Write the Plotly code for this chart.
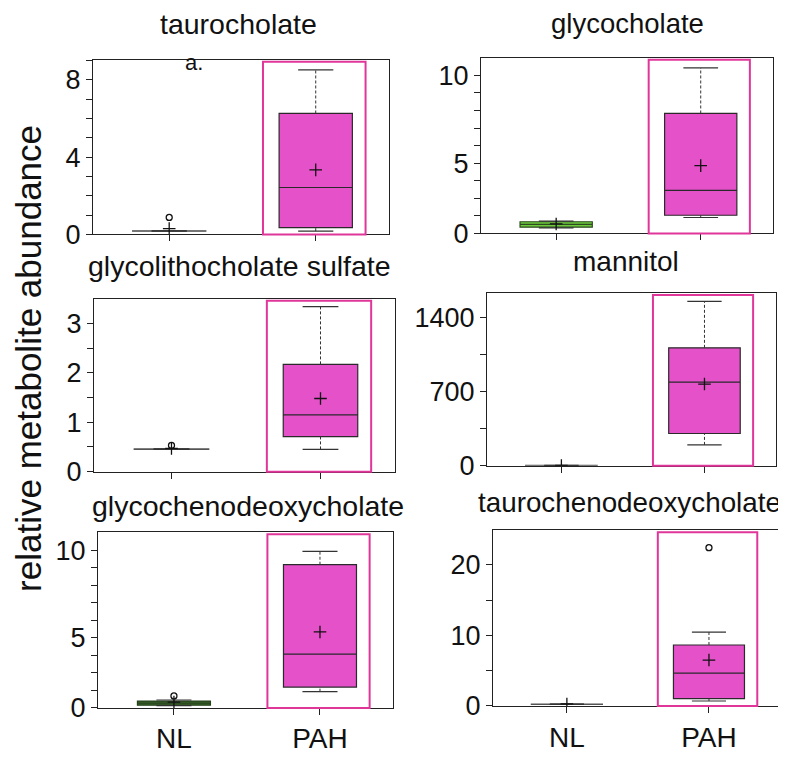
import plotly.graph_objects as go

# ---------------- data ----------------
metabolites = ["taurocholate", "glycocholate", "glycolithocholate sulfate",
               "mannitol", "glycochenodeoxycholate", "taurochenodeoxycholate"]
groups = ["NL", "PAH"]

# NL group summary statistics (one value per metabolite)
nl_lower = [0.17, 0.35, 0.45, 1, 0.15, 0.22]
nl_q1 = [0.17, 0.40, 0.45, 1, 0.17, 0.23]
nl_median = [0.18, 0.58, 0.46, 2, 0.30, 0.24]
nl_q3 = [0.19, 0.74, 0.46, 3, 0.43, 0.26]
nl_upper = [0.19, 0.78, 0.46, 3, 0.50, 0.27]
nl_mean = [0.30, 0.60, 0.47, 3, 0.37, 0.28]
nl_outliers = [[0.88], [], [0.53], [], [0.76], []]

# PAH group summary statistics
pah_lower = [0.17, 1.01, 0.45, 197, 1.03, 0.70]
pah_q1 = [0.35, 1.15, 0.71, 305, 1.32, 1.03]
pah_median = [2.43, 2.72, 1.15, 791, 3.41, 4.65]
pah_q3 = [6.26, 7.59, 2.17, 1114, 9.09, 8.65]
pah_upper = [8.52, 10.47, 3.34, 1554, 9.94, 10.47]
pah_mean = [3.34, 4.29, 1.48, 772, 4.82, 6.51]
pah_outliers = [[], [], [], [], [], [22.46]]

# y-axis extents and tick labels
y_top = [9.03, 11.1, 3.49, 1630, 11.14, 24.9]
y_tick_values = [
    [0, 1, 2, 3, 4, 5, 6, 7, 8, 9],
    [k * 10 / 9 for k in range(10)],
    [0, 0.5, 1, 1.5, 2, 2.5, 3, 3.5],
    [0, 350, 700, 1050, 1400],
    [k * 10 / 9 for k in range(10)],
    [0, 5, 10, 15, 20],
]
y_tick_labels = [
    ["0", "", "", "", "4", "", "", "", "8", ""],
    ["0", "", "", "", "5", "", "", "", "", "10"],
    ["0", "", "1", "", "2", "", "3", ""],
    ["0", "", "700", "", "1400"],
    ["0", "", "", "", "5", "", "", "", "", "10"],
    ["0", "", "10", "", "20"],
]
panel_note = "a."
y_title = "relative metabolite abundance"

# ---------------- styling ----------------
W, H = 786, 759
FONT = "Liberation Sans, Arial, Helvetica, sans-serif"
PAH_FILL = "#E451C9"
RECT_COLOR = "#E0369A"
NL_FILL = ["#555555", "#6DCB3C", "#555555", "#555555", "#3E6A2D", "#555555"]
NL_LINE = ["#555555", "#2F4A22", "#555555", "#555555", "#26401C", "#555555"]
EDGE = "#2a2a2a"

# plot areas in pixels: (left, right, top, bottom)
px_boxes = [
    (85, 381, 53, 231),
    (473, 765, 51, 230),
    (86, 387, 297, 473),
    (479, 768, 291, 467),
    (90, 385, 535, 714),
    (485, 772, 533, 712),
]
title_x_px = [230, 619, 232, 618, 240, 621]
title_y_px = [16, 16, 263, 259, 508, 504]
title_size = [28.5, 27.5, 28.5, 28, 28.5, 27.8]

fig = go.Figure()
BOX_W = 0.5
CAP = 0.12

for i in range(6):
    xa = "x" if i == 0 else f"x{i+1}"
    ya = "y" if i == 0 else f"y{i+1}"
    stats = [
        (0, nl_lower[i], nl_q1[i], nl_median[i], nl_q3[i], nl_upper[i], nl_mean[i],
         nl_outliers[i], NL_FILL[i], NL_LINE[i]),
        (1, pah_lower[i], pah_q1[i], pah_median[i], pah_q3[i], pah_upper[i], pah_mean[i],
         pah_outliers[i], PAH_FILL, EDGE),
    ]
    for pos, lo, q1, med, q3, up, mn, outs, fill, edge in stats:
        # whiskers (dotted stems)
        fig.add_trace(go.Scatter(
            x=[pos, pos, None, pos, pos], y=[q3, up, None, lo, q1],
            mode="lines", line=dict(color="#333333", width=1, dash="3px,2px"),
            xaxis=xa, yaxis=ya, showlegend=False, hoverinfo="skip"))
        # whisker caps
        fig.add_trace(go.Scatter(
            x=[pos - CAP, pos + CAP, None, pos - CAP, pos + CAP],
            y=[up, up, None, lo, lo],
            mode="lines", line=dict(color="#333333", width=1.2),
            xaxis=xa, yaxis=ya, showlegend=False, hoverinfo="skip"))
        # box
        fig.add_trace(go.Box(
            x=[pos], q1=[q1], median=[med], q3=[q3],
            lowerfence=[q1], upperfence=[q3],
            width=BOX_W, whiskerwidth=0, fillcolor=fill,
            line=dict(color=edge, width=1.2),
            xaxis=xa, yaxis=ya, showlegend=False, boxpoints=False))
        # mean
        fig.add_trace(go.Scatter(
            x=[pos], y=[mn], mode="markers",
            marker=dict(symbol="cross-thin", size=9, color="#111111",
                        line=dict(color="#111111", width=1.3)),
            xaxis=xa, yaxis=ya, showlegend=False))
        # outliers
        if outs:
            fig.add_trace(go.Scatter(
                x=[pos] * len(outs), y=outs, mode="markers",
                marker=dict(symbol="circle-open", size=6, color="#111111",
                            line=dict(color="#111111", width=1.3)),
                xaxis=xa, yaxis=ya, showlegend=False))

layout = dict(
    width=W, height=H, margin=dict(l=0, r=0, t=0, b=0),
    paper_bgcolor="white", plot_bgcolor="white", showlegend=False,
    font=dict(family=FONT, color="#111111"),
)
axis_common = dict(showline=True, mirror=True, linecolor="#222222", linewidth=1,
                   showgrid=False, zeroline=False, ticks="outside", ticklen=6,
                   tickcolor="#222222", tickwidth=1)

annotations = []
shapes = []
for i in range(6):
    l, r, t, b = px_boxes[i]
    sx = "" if i == 0 else str(i + 1)
    bottom_row = i >= 4
    layout[f"xaxis{sx}"] = dict(
        axis_common, domain=[l / W, r / W], range=[-0.52, 1.5],
        tickvals=[0, 1], ticktext=groups, showticklabels=bottom_row,
        tickfont=dict(size=28, family=FONT, color="#111111"),
        anchor=f"y{sx}")
    layout[f"yaxis{sx}"] = dict(
        axis_common, domain=[1 - b / H, 1 - t / H], range=[0, y_top[i]],
        tickvals=y_tick_values[i], ticktext=y_tick_labels[i],
        tickfont=dict(size=27, family=FONT, color="#111111"),
        anchor=f"x{sx}")
    # highlight rectangle around PAH group
    shapes.append(dict(
        type="rect", xref=f"x{sx}", yref=f"y{sx} domain",
        x0=0.64, x1=1.34, y0=0.0, y1=0.99,
        line=dict(color=RECT_COLOR, width=2), fillcolor="rgba(0,0,0,0)", layer="above"))
    # panel title
    annotations.append(dict(
        text=metabolites[i], xref="paper", yref="paper",
        x=title_x_px[i] / W, y=1 - title_y_px[i] / H,
        xanchor="center", yanchor="middle", showarrow=False, borderpad=0,
        font=dict(size=title_size[i], family=FONT, color="#111111")))

annotations.append(dict(
    text=panel_note, xref="paper", yref="paper", x=186 / W, y=1 - 56 / H,
    xanchor="center", yanchor="middle", showarrow=False,
    font=dict(size=22, family=FONT, color="#111111")))
annotations.append(dict(
    text=y_title, xref="paper", yref="paper", x=21 / W, y=1 - 358 / H,
    xanchor="center", yanchor="middle", textangle=-90, showarrow=False,
    font=dict(size=35, family=FONT, color="#111111")))

layout["annotations"] = annotations
layout["shapes"] = shapes
fig.update_layout(**layout)
fig.write_html("out.html")
